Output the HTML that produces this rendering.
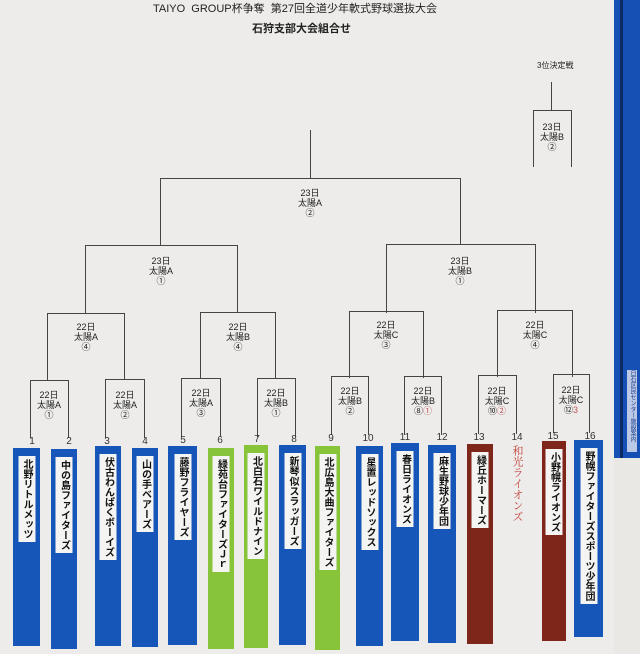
<!DOCTYPE html>
<html><head><meta charset="utf-8"><style>
body{margin:0;width:640px;height:654px;overflow:hidden;background:#e9e8e4;font-family:"Liberation Sans","Noto Sans CJK JP",sans-serif;position:relative}
.a{position:absolute}
.b{position:absolute;border:1.3px solid #444;border-bottom:none;box-sizing:border-box}
.v{position:absolute;border-left:1.3px solid #444}
.t{position:absolute;font-size:9px;line-height:10px;text-align:center;color:#222;width:60px}
.n{position:absolute;font-size:10px;color:#333;width:20px;text-align:center}
.s{position:absolute;top:449px;height:198px}
.s div{position:absolute;left:50%;transform:translateX(-50%);top:8px;background:#f4f4f2;writing-mode:vertical-rl;font-size:10px;font-weight:bold;color:#111;padding:3px 2px;letter-spacing:0;line-height:13px}
.bl{background:#1756b9}.gr{background:#88c43a}.br{background:#7e2619}
</style></head><body>
<div class="a" style="left:0;top:0;width:614px;height:654px;background:#edecea"></div>
<div class="a" style="left:614px;top:0;width:26px;height:458px;background:#1650b5"></div>
<div class="a" style="left:620px;top:0;width:3px;height:458px;background:#0d2a66"></div>
<div class="a" style="left:627px;top:370px;width:10px;height:82px;background:#bcc9e6;font-size:6px;writing-mode:vertical-rl;color:#1a3c8a;overflow:hidden">日石区民センター施設案内</div>
<div class="a" style="left:153px;top:0;width:320px;font-size:11px;color:#222;white-space:nowrap">TAIYO&nbsp; GROUP杯争奪&nbsp; 第27回全道少年軟式野球選抜大会</div>
<div class="a" style="left:252px;top:20px;font-size:11px;font-weight:bold;color:#222">石狩支部大会組合せ</div>
<div class="a" style="left:537px;top:60px;font-size:8px;color:#222">3位決定戦</div>

<div class="v" style="left:551px;top:82px;height:28px"></div>
<div class="b" style="left:533px;top:110px;width:39px;height:57px"></div>
<div class="t" style="left:522px;top:122px">23日<br>太陽B<br>②</div>

<div class="v" style="left:310px;top:130px;height:48px"></div>
<div class="b" style="left:160px;top:178px;width:301px;height:67px"></div>
<div class="t" style="left:280px;top:188px">23日<br>太陽A<br>②</div>

<div class="b" style="left:85px;top:245px;width:153px;height:68px"></div>
<div class="t" style="left:131px;top:256px">23日<br>太陽A<br>①</div>
<div class="b" style="left:386px;top:244px;width:150px;height:69px"></div>
<div class="t" style="left:430px;top:256px">23日<br>太陽B<br>①</div>

<div class="b" style="left:47px;top:313px;width:78px;height:67px"></div>
<div class="t" style="left:56px;top:322px">22日<br>太陽A<br>④</div>
<div class="b" style="left:200px;top:312px;width:76px;height:67px"></div>
<div class="t" style="left:208px;top:322px">22日<br>太陽B<br>④</div>
<div class="b" style="left:349px;top:311px;width:75px;height:67px"></div>
<div class="t" style="left:356px;top:320px">22日<br>太陽C<br>③</div>
<div class="b" style="left:497px;top:310px;width:76px;height:67px"></div>
<div class="t" style="left:505px;top:320px">22日<br>太陽C<br>④</div>

<div class="b" style="left:30px;top:380px;width:39px;height:58px"></div>
<div class="t" style="left:19px;top:390px">22日<br>太陽A<br>①</div>
<div class="b" style="left:105px;top:379px;width:40px;height:59px"></div>
<div class="t" style="left:95px;top:390px">22日<br>太陽A<br>②</div>
<div class="b" style="left:181px;top:378px;width:40px;height:59px"></div>
<div class="t" style="left:171px;top:388px">22日<br>太陽A<br>③</div>
<div class="b" style="left:257px;top:378px;width:39px;height:59px"></div>
<div class="t" style="left:246px;top:388px">22日<br>太陽B<br>①</div>
<div class="b" style="left:331px;top:376px;width:38px;height:59px"></div>
<div class="t" style="left:320px;top:386px">22日<br>太陽B<br>②</div>
<div class="b" style="left:404px;top:376px;width:38px;height:59px"></div>
<div class="t" style="left:393px;top:386px">22日<br>太陽B<br>⑧<span style="color:#b55">①</span></div>
<div class="b" style="left:478px;top:375px;width:39px;height:59px"></div>
<div class="t" style="left:467px;top:386px">22日<br>太陽C<br>⑩<span style="color:#b55">②</span></div>
<div class="b" style="left:553px;top:374px;width:37px;height:59px"></div>
<div class="t" style="left:541px;top:385px">22日<br>太陽C<br>⑫<span style="color:#b55">3</span></div>

<div class="n" style="left:22px;top:436px">1</div><div class="n" style="left:59px;top:436px">2</div>
<div class="n" style="left:97px;top:436px">3</div><div class="n" style="left:135px;top:436px">4</div>
<div class="n" style="left:173px;top:435px">5</div><div class="n" style="left:210px;top:435px">6</div>
<div class="n" style="left:247px;top:434px">7</div><div class="n" style="left:284px;top:434px">8</div>
<div class="n" style="left:321px;top:433px">9</div><div class="n" style="left:358px;top:433px">10</div>
<div class="n" style="left:395px;top:432px">11</div><div class="n" style="left:432px;top:432px">12</div>
<div class="n" style="left:469px;top:432px">13</div><div class="n" style="left:507px;top:432px">14</div>
<div class="n" style="left:543px;top:431px">15</div><div class="n" style="left:580px;top:431px">16</div>

<div class="s bl" style="left:13px;width:27px;top:448px;height:198px"><div>北野リトルメッツ</div></div>
<div class="s bl" style="left:51px;width:26px;height:200px"><div>中の島ファイターズ</div></div>
<div class="s bl" style="left:95px;width:26px;top:446px;height:200px"><div>伏古わんぱくボーイズ</div></div>
<div class="s bl" style="left:132px;width:26px;top:448px;height:199px"><div>山の手ベアーズ</div></div>
<div class="s bl" style="left:168px;width:29px;top:446px;height:199px"><div>藤野フライヤーズ</div></div>
<div class="s gr" style="left:208px;width:26px;top:448px;height:201px"><div>緑苑台ファイターズＪｒ</div></div>
<div class="s gr" style="left:244px;width:24px;top:445px;height:203px"><div>北白石ワイルドナイン</div></div>
<div class="s bl" style="left:279px;width:27px;top:445px;height:200px"><div>新琴似スラッガーズ</div></div>
<div class="s gr" style="left:315px;width:25px;top:446px;height:204px"><div>北広島大曲ファイターズ</div></div>
<div class="s bl" style="left:356px;width:27px;top:446px;height:200px"><div>星置レッドソックス</div></div>
<div class="s bl" style="left:391px;width:28px;top:443px;height:198px"><div>春日ライオンズ</div></div>
<div class="s bl" style="left:428px;width:28px;top:445px;height:198px"><div>麻生野球少年団</div></div>
<div class="s br" style="left:467px;width:26px;top:444px;height:200px"><div>緑丘ホーマーズ</div></div>
<div class="a" style="left:510px;top:445px;writing-mode:vertical-rl;font-size:11px;color:#c0403a;font-family:'Noto Serif CJK SC',serif">和光ライオンズ</div>
<div class="s br" style="left:542px;width:24px;top:441px;height:200px"><div>小野幌ライオンズ</div></div>
<div class="s bl" style="left:574px;width:29px;top:440px;height:197px"><div>野幌ファイターズスポーツ少年団</div></div>
</body></html>
